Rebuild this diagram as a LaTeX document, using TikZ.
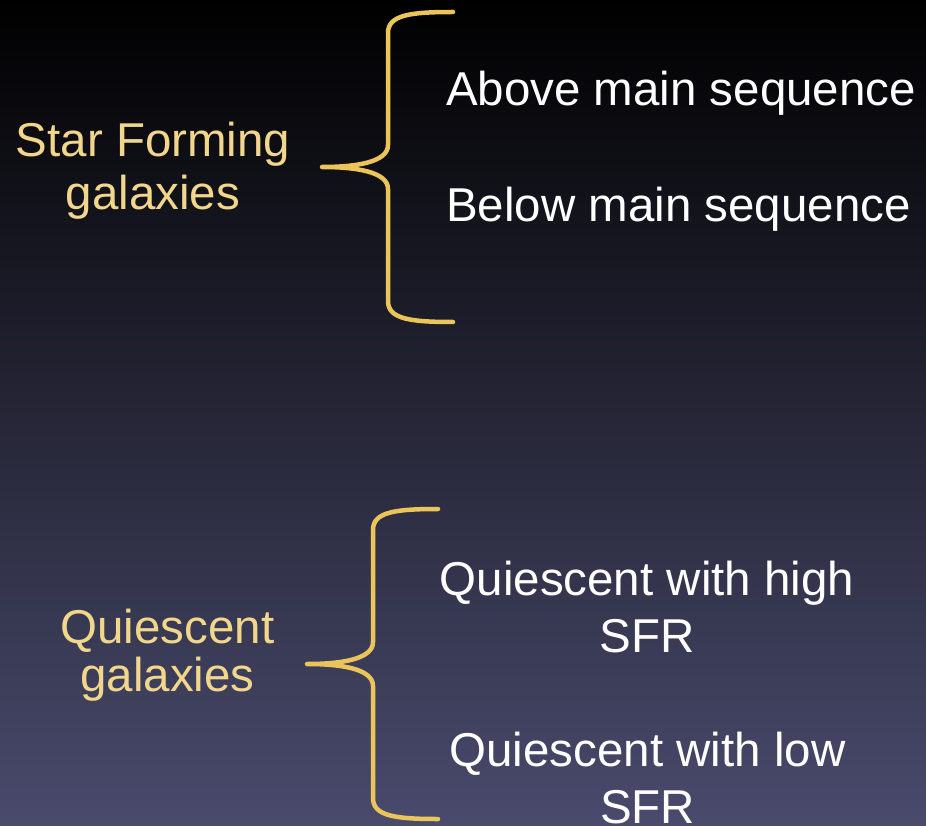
\documentclass[tikz,border=0pt]{standalone}
\usepackage{fontspec}
\setmainfont{Liberation Sans}
\definecolor{labelgold}{RGB}{241,214,140}
\definecolor{bracegold}{RGB}{235,196,90}
\definecolor{skymid}{RGB}{34,32,54}
\definecolor{skybottom}{RGB}{74,75,109}
\tikzset{grp/.style={inner sep=0pt, outer sep=0pt, text=labelgold, align=center, anchor=base, font=\fontsize{47.5}{53}\selectfont},
sub/.style={inner sep=0pt, outer sep=0pt, text=white, align=center, anchor=base, font=\fontsize{47.5}{57}\selectfont},
brc/.style={draw=bracegold, line width=4.5pt, line cap=round, line join=round}}

\begin{document}
\begin{tikzpicture}[x=1pt,y=-1pt]
\useasboundingbox (0,0) rectangle (926,826);
\clip (0,0) rectangle (926,826);
\fill[top color=black, middle color=skymid, bottom color=skybottom] (0,0) rectangle (926,826);
% multi-line nodes sit on the baseline of their last line
\node[grp] (sf) at (153,210) {Star Forming\\galaxies};
\node[grp, font=\fontsize{47.5}{48}\selectfont] (qu) at (167.5,691) {Quiescent\\galaxies};
\node[sub, anchor=base west] (above) at (446,106) {Above main sequence};
\node[sub, anchor=base west] (below) at (446,222) {Below main sequence};
\node[sub] (qhigh) at (647,652) {Quiescent with high\\SFR};
\node[sub] (qlow) at (647.5,823) {Quiescent with low\\SFR};
\foreach \bx/\by in {322/167,307/664}{
\draw[brc, shift={(\bx,\by)}] (131,-155) .. controls (88,-155) and (66,-152) .. (66,-134) -- (66,-22) .. controls (66,-5) and (35,0) .. (0,0) .. controls (35,0) and (66,5) .. (66,22) -- (66,134) .. controls (66,152) and (88,155) .. (131,155);
}
\end{tikzpicture}
\end{document}
